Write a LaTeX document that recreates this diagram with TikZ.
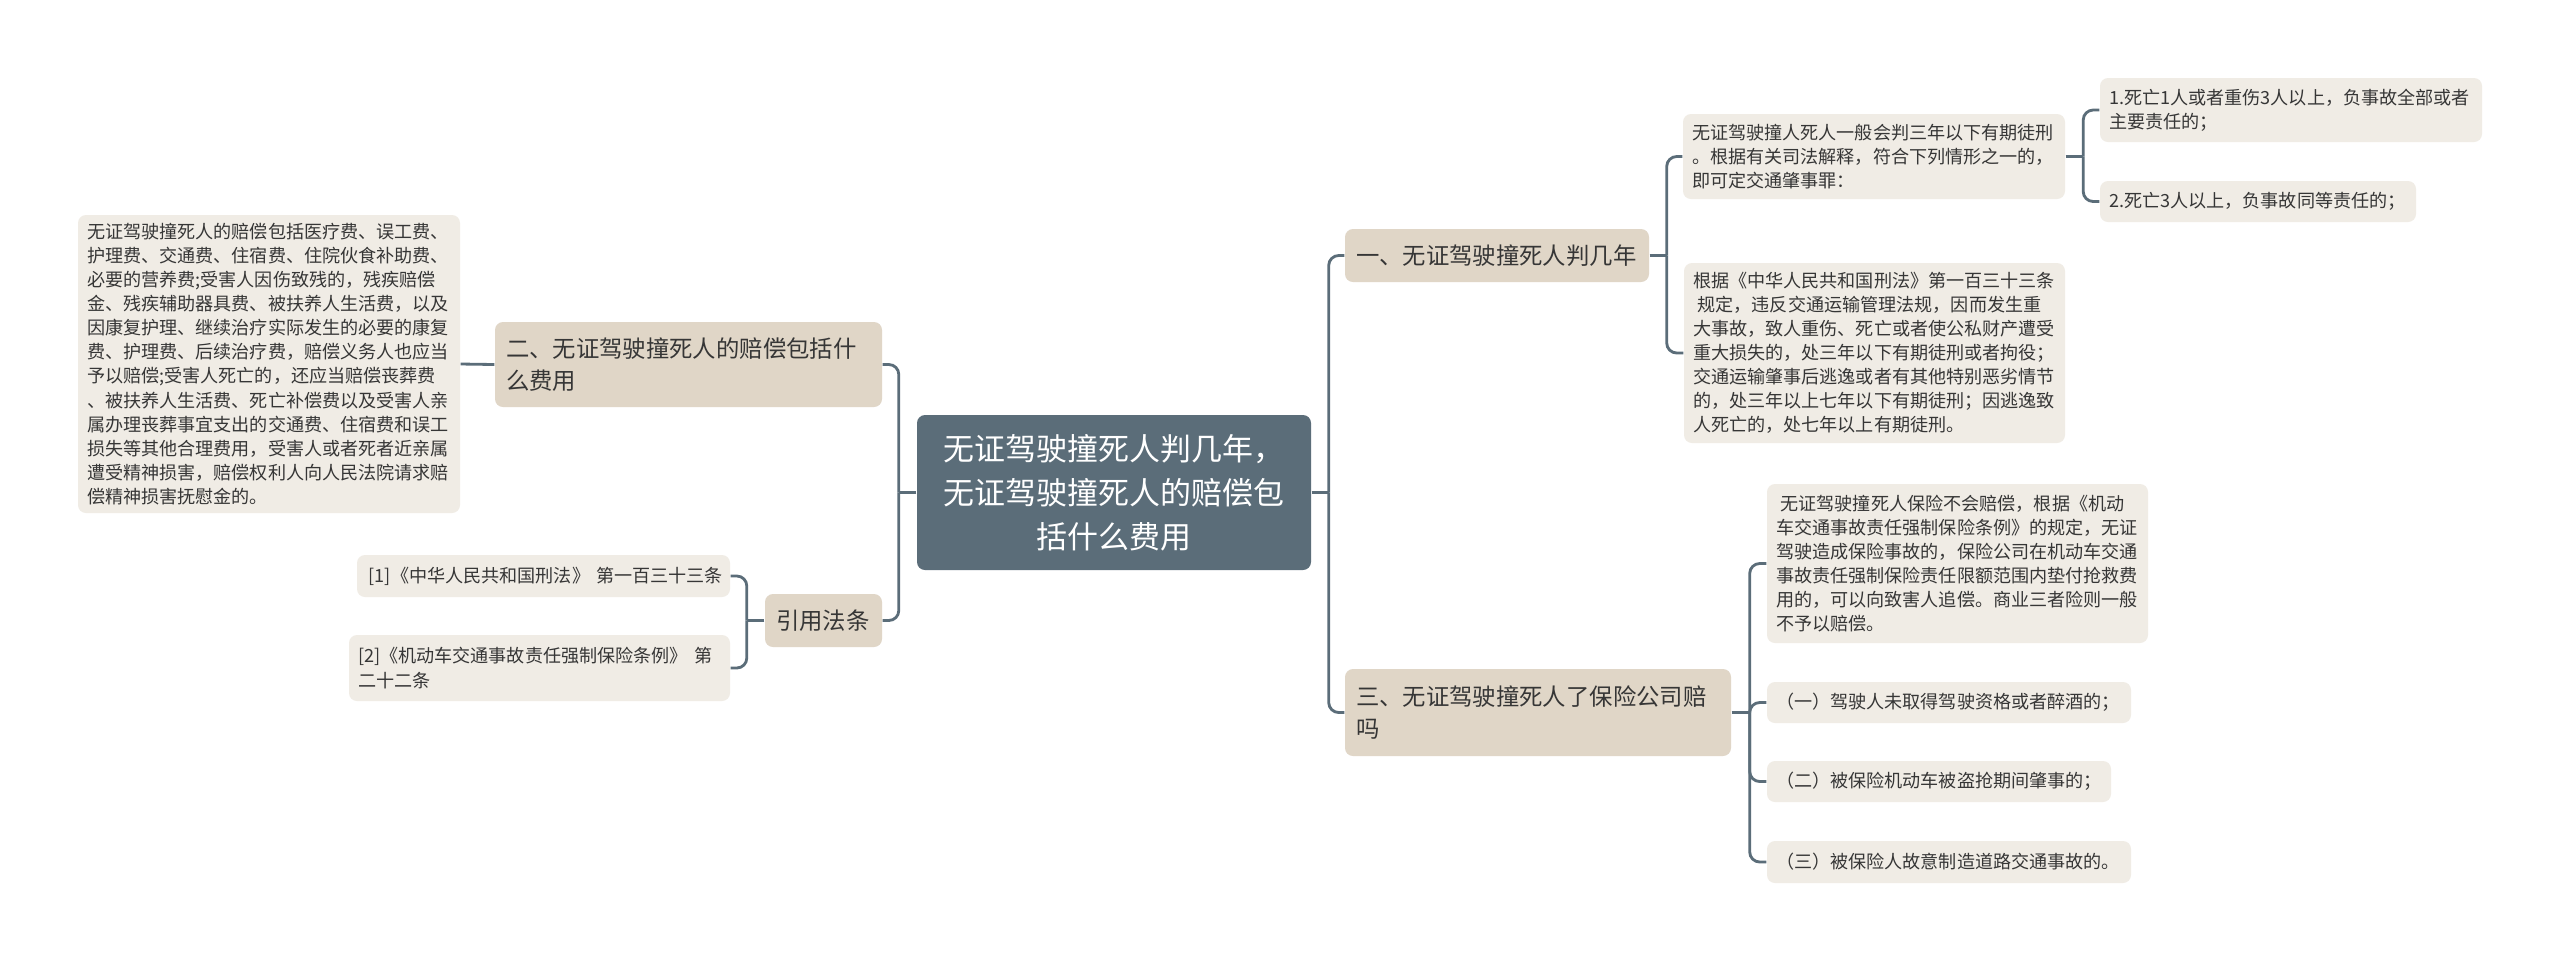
\documentclass[tikz,border=0pt]{standalone}
\usepackage{fontspec}
\setmainfont{Noto Sans CJK SC}
\usepackage{tikz}
\usepackage{xcolor}
\definecolor{rootfill}{HTML}{5B6D79}
\definecolor{topicfill}{HTML}{E0D6C7}
\definecolor{leaffill}{HTML}{F0ECE5}
\definecolor{linkcol}{HTML}{5B6D79}
\definecolor{txtcol}{HTML}{363636}
\tikzset{
    root/.style={fill=rootfill, rounded corners=0.08cm, text=white, align=center, inner xsep=0cm, inner ysep=0cm, font=\fontsize{8.8}{12.5}\selectfont},
    topic/.style={fill=topicfill, rounded corners=0.08cm, text=txtcol, align=left, inner xsep=0.11cm, inner ysep=0cm, font=\fontsize{6.65}{9.3}\selectfont},
    leaf/.style={fill=leaffill, rounded corners=0.08cm, text=txtcol, align=left, inner xsep=0.09cm, inner ysep=0cm, font=\fontsize{5.15}{6.85}\selectfont},
    link/.style={draw=linkcol, line width=0.8pt, rounded corners=0.1cm}
}

\begin{document}
\begin{tikzpicture}
            \useasboundingbox (0,0) rectangle (25.6,-9.63);
            \fill[white] (0,0) rectangle (25.6,-9.63);

            \node[root, text width=3.94cm, minimum height=1.55cm] (root) at (11.14,-4.925) {无证驾驶撞死人判几年，\\无证驾驶撞死人的赔偿包\\括什么费用};

            \node[topic, text width=2.82cm, minimum height=0.53cm] (topic1) at (14.97,-2.555) {一、无证驾驶撞死人判几年};
            \node[topic, text width=3.65cm, minimum height=0.85cm] (topic2) at (6.885,-3.645) {二、无证驾驶撞死人的赔偿包括什\\么费用};
            \node[topic, text width=3.64cm, minimum height=0.87cm] (topic3) at (15.38,-7.125) {三、无证驾驶撞死人了保险公司赔\\吗};
            \node[topic, text width=0.95cm, minimum height=0.53cm] (cite) at (8.235,-6.205) {引用法条};

            \node[leaf, text width=3.64cm, minimum height=2.98cm] (costs) at (2.69,-3.64) {无证驾驶撞死人的赔偿包括医疗费、误工费、\\护理费、交通费、住宿费、住院伙食补助费、\\必要的营养费;受害人因伤致残的，残疾赔偿\\金、残疾辅助器具费、被扶养人生活费，以及\\因康复护理、继续治疗实际发生的必要的康复\\费、护理费、后续治疗费，赔偿义务人也应当\\予以赔偿;受害人死亡的，还应当赔偿丧葬费\\、被扶养人生活费、死亡补偿费以及受害人亲\\属办理丧葬事宜支出的交通费、住宿费和误工\\损失等其他合理费用，受害人或者死者近亲属\\遭受精神损害，赔偿权利人向人民法院请求赔\\偿精神损害抚慰金的。};

            \node[leaf, text width=3.55cm, minimum height=0.42cm] (cite1) at (5.435,-5.76) {\hspace*{0.15em}[1]《中华人民共和国刑法》~第一百三十三条};
            \node[leaf, text width=3.63cm, minimum height=0.66cm] (cite2) at (5.395,-6.68) {[2]《机动车交通事故责任强制保险条例》~第\\二十二条};

            \node[leaf, text width=3.64cm, minimum height=0.85cm] (years) at (18.74,-1.565) {无证驾驶撞人死人一般会判三年以下有期徒刑\\。根据有关司法解释，符合下列情形之一的，\\即可定交通肇事罪：};
            \node[leaf, text width=3.63cm, minimum height=1.80cm] (law) at (18.745,-3.53) {根据《中华人民共和国刑法》第一百三十三条\\\hspace*{0.25em}规定，违反交通运输管理法规，因而发生重\\大事故，致人重伤、死亡或者使公私财产遭受\\重大损失的，处三年以下有期徒刑或者拘役；\\交通运输肇事后逃逸或者有其他特别恶劣情节\\的，处三年以上七年以下有期徒刑；因逃逸致\\人死亡的，处七年以上有期徒刑。};

            \node[leaf, text width=3.64cm, minimum height=0.64cm] (case1) at (22.91,-1.10) {1.死亡1人或者重伤3人以上，负事故全部或者\\主要责任的；};
            \node[leaf, text width=2.98cm, minimum height=0.41cm] (case2) at (22.58,-2.015) {2.死亡3人以上，负事故同等责任的；};

            \node[leaf, text width=3.63cm, minimum height=1.59cm] (ins) at (19.575,-5.635) {\hspace*{0.25em}无证驾驶撞死人保险不会赔偿，根据《机动\\车交通事故责任强制保险条例》的规定，无证\\驾驶造成保险事故的，保险公司在机动车交通\\事故责任强制保险责任限额范围内垫付抢救费\\用的，可以向致害人追偿。商业三者险则一般\\不予以赔偿。};
            \node[leaf, text width=3.46cm, minimum height=0.41cm] (rule1) at (19.49,-7.025) {（一）驾驶人未取得驾驶资格或者醉酒的；};
            \node[leaf, text width=3.26cm, minimum height=0.41cm] (rule2) at (19.39,-7.815) {（二）被保险机动车被盗抢期间肇事的；};
            \node[leaf, text width=3.46cm, minimum height=0.42cm] (rule3) at (19.49,-8.62) {（三）被保险人故意制造道路交通事故的。};

            \draw[link] (root.east)--++(0.17,0) coordinate (jr);
            \draw[link] (jr) |- (topic1.west);
            \draw[link] (jr) |- (topic3.west);

            \draw[link] (root.west)--++(-0.175,0) coordinate (jl);
            \draw[link] (jl) |- (topic2.east);
            \draw[link] (jl) |- (cite.east);

            \draw[link] (topic2.west)--(costs.east);

            \draw[link] (cite.west)--++(-0.175,0) coordinate (jc);
            \draw[link] (jc) |- (cite1.east);
            \draw[link] (jc) |- (cite2.east);

            \draw[link] (topic1.east)--++(0.17,0) coordinate (j1);
            \draw[link] (j1) |- (years.west);
            \draw[link] (j1) |- (law.west);

            \draw[link] (years.east)--++(0.175,0) coordinate (jy);
            \draw[link] (jy) |- (case1.west);
            \draw[link] (jy) |- (case2.west);

            \draw[link] (topic3.east)--++(0.18,0) coordinate (j3);
            \draw[link] (j3) |- (ins.west);
            \draw[link] (j3) |- (rule1.west);
            \draw[link] (j3) |- (rule2.west);
            \draw[link] (j3) |- (rule3.west);
\end{tikzpicture}
\end{document}
